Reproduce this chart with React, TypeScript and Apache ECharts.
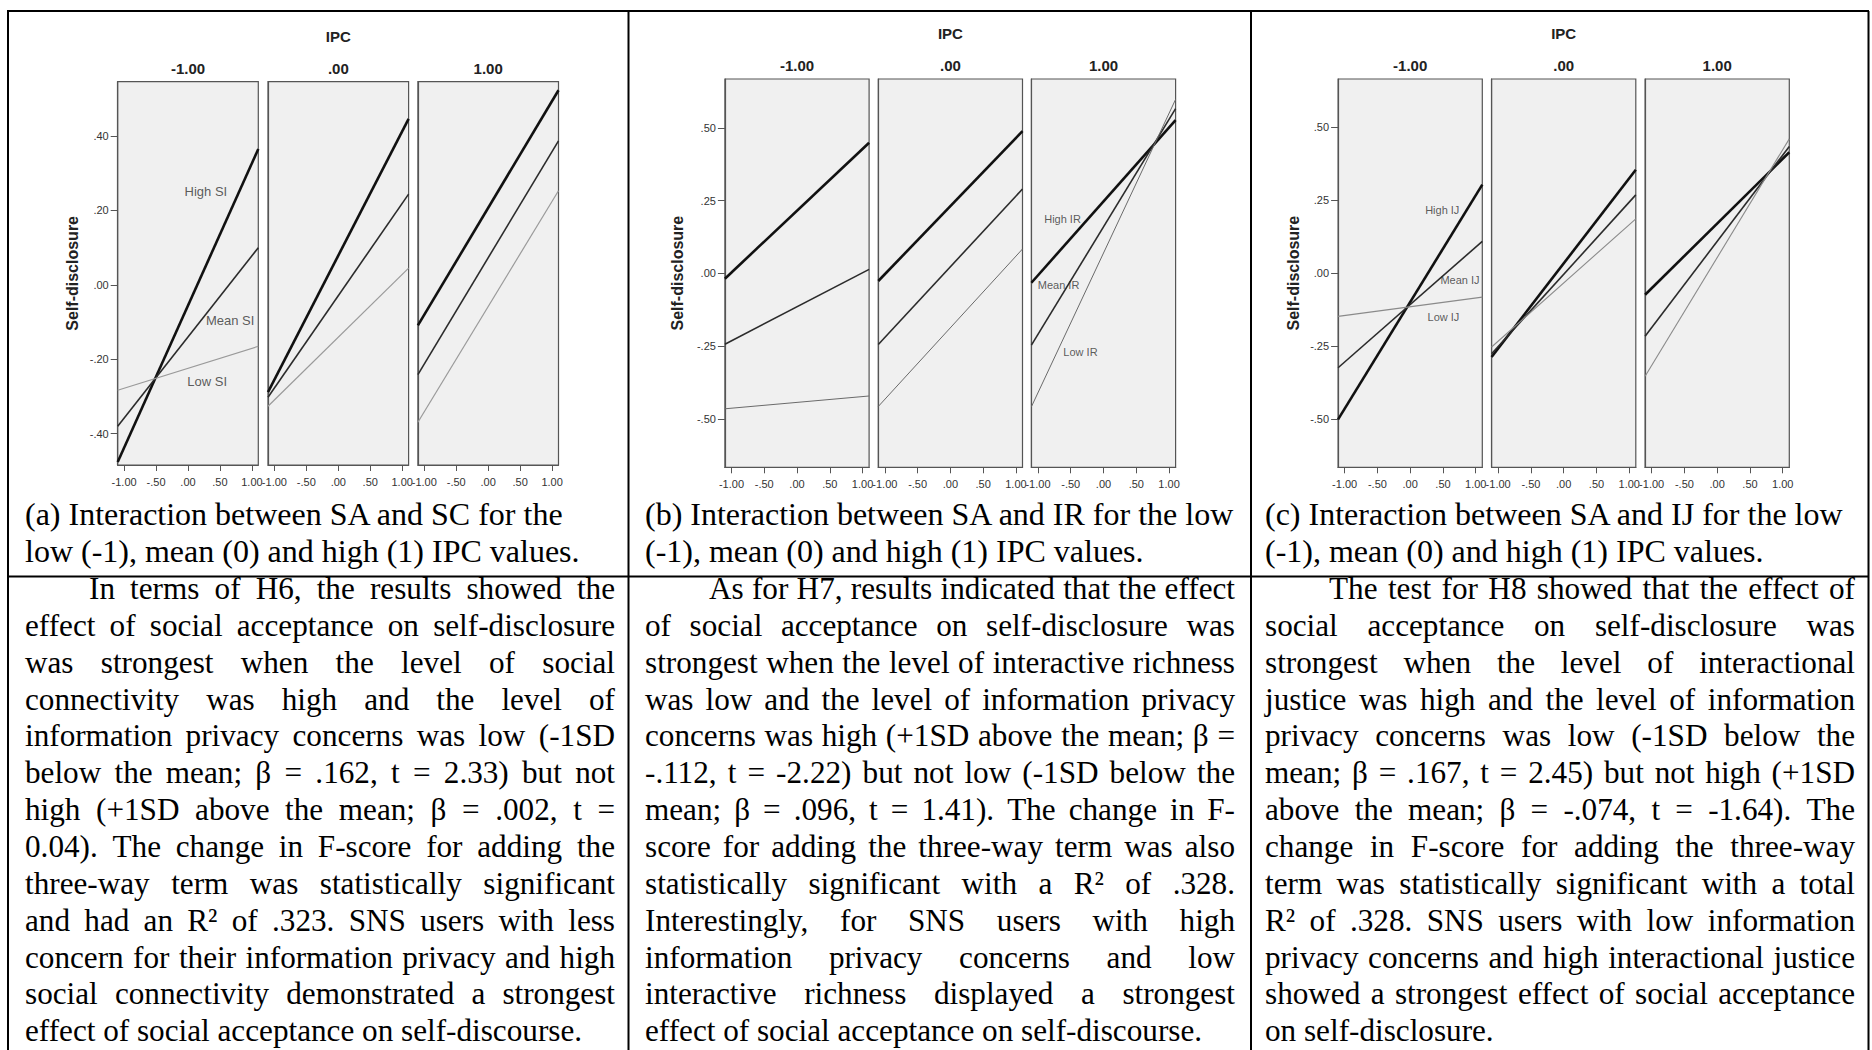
import React, { useEffect, useRef } from "react";
import * as echarts from "echarts";

// ---------------- data ----------------
const ipcLevels = ["-1.00", ".00", "1.00"];
const saTicks = [-1, -0.5, 0, 0.5, 1];
const saRange = [-1.1, 1.1];
const yTicksA = [-0.4, -0.2, 0, 0.2, 0.4];
const yTicksB = [-0.5, -0.25, 0, 0.25, 0.5];
const yTicksC = [-0.5, -0.25, 0, 0.25, 0.5];

// each row = one IPC facet (-1, 0, 1): [self-disclosure at SA min, at SA max]
const siHigh = [[-0.476, 0.365], [-0.288, 0.446], [-0.109, 0.523]];
const siMean = [[-0.38, 0.1], [-0.302, 0.244], [-0.241, 0.387]];
const siLow = [[-0.283, -0.165], [-0.326, 0.045], [-0.369, 0.253]];

const irHigh = [[-0.018, 0.449], [-0.026, 0.489], [-0.032, 0.527]];
const irMean = [[-0.243, 0.014], [-0.244, 0.29], [-0.246, 0.566]];
const irLow = [[-0.465, -0.421], [-0.457, 0.084], [-0.458, 0.598]];

const ijHigh = [[-0.5, 0.304], [-0.286, 0.355], [-0.073, 0.415]];
const ijMean = [[-0.323, 0.11], [-0.275, 0.269], [-0.215, 0.435]];
const ijLow = [[-0.147, -0.081], [-0.252, 0.187], [-0.352, 0.461]];

const captions = [
  ["(a) Interaction between SA and SC for the", "low (-1), mean (0) and high (1) IPC values."],
  ["(b) Interaction between SA and IR for the low", "(-1), mean (0) and high (1) IPC values."],
  ["(c) Interaction between SA and IJ for the low", "(-1), mean (0) and high (1) IPC values."],
];

const bodyA = [
  "In terms of H6, the results showed the",
  "effect of social acceptance on self-disclosure",
  "was strongest when the level of social",
  "connectivity was high and the level of",
  "information privacy concerns was low (-1SD",
  "below the mean; β = .162, t = 2.33) but not",
  "high (+1SD above the mean; β = .002, t =",
  "0.04). The change in F-score for adding the",
  "three-way term was statistically significant",
  "and had an R² of .323. SNS users with less",
  "concern for their information privacy and high",
  "social connectivity demonstrated a strongest",
  "effect of social acceptance on self-discourse.",
];
const bodyB = [
  "As for H7, results indicated that the effect",
  "of social acceptance on self-disclosure was",
  "strongest when the level of interactive richness",
  "was low and the level of information privacy",
  "concerns was high (+1SD above the mean; β =",
  "-.112, t = -2.22) but not low (-1SD below the",
  "mean; β = .096, t = 1.41). The change in F-",
  "score for adding the three-way term was also",
  "statistically significant with a R² of .328.",
  "Interestingly, for SNS users with high",
  "information privacy concerns and low",
  "interactive richness displayed a strongest",
  "effect of social acceptance on self-discourse.",
];
const bodyC = [
  "The test for H8 showed that the effect of",
  "social acceptance on self-disclosure was",
  "strongest when the level of interactional",
  "justice was high and the level of information",
  "privacy concerns was low (-1SD below the",
  "mean; β = .167, t = 2.45) but not high (+1SD",
  "above the mean; β = -.074, t = -1.64). The",
  "change in F-score for adding the three-way",
  "term was statistically significant with a total",
  "R² of .328. SNS users with low information",
  "privacy concerns and high interactional justice",
  "showed a strongest effect of social acceptance",
  "on self-disclosure.",
];

// ---------------- styles / layout ----------------
const SERIF = '"Liberation Serif", "Times New Roman", serif';
const SANS = '"Liberation Sans", Arial, sans-serif';
const styleHigh = { color: "#111", width: 2.6 };
const styleMean = { color: "#2b2b2b", width: 1.6 };

const panels = [
  {
    series: [
      { name: "High SI", values: siHigh, style: styleHigh },
      { name: "Mean SI", values: siMean, style: styleMean },
      { name: "Low SI", values: siLow, style: { color: "#9a9a9a", width: 1.2 } },
    ],
    yMin: -0.484, yMax: 0.546, yTicks: yTicksA,
    facets: [117.7, 268, 417.9], facetW: 140.6, top: 81.7, bottom: 465,
    ipcY: 36.7, headY: 68, titleX: 72.3,
    labelFacet: 0, labelPos: [[0.28, 0.25], [0.66, -0.095], [0.3, -0.26]], labelSize: 13,
  },
  {
    series: [
      { name: "High IR", values: irHigh, style: styleHigh },
      { name: "Mean IR", values: irMean, style: styleMean },
      { name: "Low IR", values: irLow, style: { color: "#6a6a6a", width: 1 } },
    ],
    yMin: -0.666, yMax: 0.668, yTicks: yTicksB,
    facets: [724.9, 878.3, 1031.4], facetW: 144.2, top: 79, bottom: 467.3,
    ipcY: 33, headY: 65, titleX: 677.8,
    labelFacet: 2, labelPos: [[-0.625, 0.187], [-0.686, -0.04], [-0.351, -0.269]], labelSize: 11,
  },
  {
    series: [
      { name: "High IJ", values: ijHigh, style: styleHigh },
      { name: "Mean IJ", values: ijMean, style: styleMean },
      { name: "Low IJ", values: ijLow, style: { color: "#8a8a8a", width: 1.1 } },
    ],
    yMin: -0.664, yMax: 0.666, yTicks: yTicksC,
    facets: [1338.1, 1491.6, 1645.1], facetW: 144.2, top: 79, bottom: 467.3,
    ipcY: 33, headY: 65, titleX: 1293.6,
    labelFacet: 0, labelPos: [[0.489, 0.219], [0.76, -0.022], [0.507, -0.15]], labelSize: 11,
  },
];

const bodies = [bodyA, bodyB, bodyC];
const textLeft = [25, 645, 1265];
const textWidth = 590;
const indent = 64;
const BODY_SIZE = 31.2;
const CAP_SIZE = 32;

function fmt(v: number) {
  const s = Math.abs(v).toFixed(2).replace(/^0\./, ".");
  return (v < 0 ? "-" : "") + s;
}

let measureCtx: CanvasRenderingContext2D | null = null;
function measure(t: string, size: number) {
  if (!measureCtx) measureCtx = document.createElement("canvas").getContext("2d");
  measureCtx!.font = `${size}px "Liberation Serif"`;
  return measureCtx!.measureText(t).width;
}

function textEl(text: string, x: number, y: number, size: number, extra: any = {}) {
  return {
    type: "text",
    x,
    y,
    silent: true,
    style: {
      text,
      fontSize: size,
      fontFamily: SERIF,
      fill: "#000",
      align: "left",
      verticalAlign: "middle",
      ...extra,
    },
  };
}

function lineEls(line: string, x0: number, width: number, y: number, size: number, justify: boolean) {
  if (!justify) return [textEl(line, x0, y, size)];
  const words = line.split(" ");
  const ws = words.map((w) => measure(w, size));
  const total = ws.reduce((a, b) => a + b, 0);
  const gap = (width - total) / (words.length - 1);
  let x = x0;
  return words.map((w, i) => {
    const el = textEl(w, x, y, size);
    x += ws[i] + gap;
    return el;
  });
}

function buildOption() {
  const grid: any[] = [];
  const xAxis: any[] = [];
  const yAxis: any[] = [];
  const series: any[] = [];
  const graphics: any[] = [];

  panels.forEach((p, pi) => {
    p.facets.forEach((left, fi) => {
      const gi = grid.length;
      grid.push({
        left,
        top: p.top,
        width: p.facetW,
        height: p.bottom - p.top,
        show: true,
        backgroundColor: "#f0f0f0",
        borderColor: "#555",
        borderWidth: 1.2,
        containLabel: false,
        outerBoundsMode: "none",
      });
      xAxis.push({
        type: "value",
        gridIndex: gi,
        min: saRange[0],
        max: saRange[1],
        axisLine: { show: true, onZero: false, lineStyle: { color: "#555", width: 1.2 } },
        axisTick: { show: true, customValues: saTicks, length: 6, lineStyle: { color: "#555" } },
        axisLabel: {
          customValues: saTicks,
          formatter: (v: number) => fmt(v),
          fontSize: 11,
          fontFamily: SANS,
          color: "#333",
          margin: 11,
          hideOverlap: false,
        },
        splitLine: { show: false },
      });
      yAxis.push({
        type: "value",
        gridIndex: gi,
        min: p.yMin,
        max: p.yMax,
        axisLine: { show: true, onZero: false, lineStyle: { color: "#555", width: 1.2 } },
        axisTick: { show: fi === 0, customValues: p.yTicks, length: 7, lineStyle: { color: "#555" } },
        axisLabel: {
          show: fi === 0,
          customValues: p.yTicks,
          formatter: (v: number) => fmt(v),
          fontSize: 11,
          fontFamily: SANS,
          color: "#333",
          margin: 9,
        },
        splitLine: { show: false },
      });
      p.series.forEach((s) => {
        series.push({
          type: "line",
          name: s.name,
          xAxisIndex: gi,
          yAxisIndex: gi,
          symbol: "none",
          silent: true,
          lineStyle: { color: s.style.color, width: s.style.width },
          data: [
            [saRange[0], s.values[fi][0]],
            [saRange[1], s.values[fi][1]],
          ],
        });
      });
      if (fi === p.labelFacet) {
        series.push({
          type: "scatter",
          xAxisIndex: gi,
          yAxisIndex: gi,
          silent: true,
          symbolSize: 1,
          itemStyle: { color: "rgba(0,0,0,0)" },
          data: p.series.map((s, si) => ({ name: s.name, value: p.labelPos[si] })),
          label: {
            show: true,
            position: "inside",
            formatter: (d: any) => d.name,
            fontSize: p.labelSize,
            fontFamily: SANS,
            color: "#333",
          },
        });
      }
      // facet header
      graphics.push({
        type: "text",
        x: left + p.facetW / 2,
        y: p.headY,
        silent: true,
        style: {
          text: ipcLevels[fi],
          fontSize: 15,
          fontWeight: "bold",
          fontFamily: SANS,
          fill: "#222",
          align: "center",
          verticalAlign: "middle",
        },
      });
    });
    graphics.push({
      type: "text",
      x: p.facets[1] + p.facetW / 2,
      y: p.ipcY,
      silent: true,
      style: {
        text: "IPC",
        fontSize: 15,
        fontWeight: "bold",
        fontFamily: SANS,
        fill: "#222",
        align: "center",
        verticalAlign: "middle",
      },
    });
    graphics.push({
      type: "text",
      x: p.titleX,
      y: (p.top + p.bottom) / 2,
      rotation: Math.PI / 2,
      silent: true,
      style: {
        text: "Self-disclosure",
        fontSize: 16,
        fontWeight: "bold",
        fontFamily: SANS,
        fill: "#222",
        align: "center",
        verticalAlign: "middle",
      },
    });

    // captions
    captions[pi].forEach((c, li) => {
      graphics.push(textEl(c, textLeft[pi], 514 + li * 37, CAP_SIZE));
    });
    // body text
    const body = bodies[pi];
    body.forEach((line, li) => {
      const y = 588.5 + li * 36.85;
      const first = li === 0;
      const last = li === body.length - 1;
      const x0 = textLeft[pi] + (first ? indent : 0);
      const w = textWidth - (first ? indent : 0);
      graphics.push(...lineEls(line, x0, w, y, BODY_SIZE, !last));
    });
  });

  // table rules
  const rule = (x1: number, y1: number, x2: number, y2: number) => ({
    type: "line",
    silent: true,
    shape: { x1, y1, x2, y2 },
    style: { stroke: "#000", lineWidth: 2 },
  });
  graphics.push(rule(7, 11, 1869, 11));
  graphics.push(rule(8, 11, 8, 1050));
  graphics.push(rule(628.5, 11, 628.5, 1050));
  graphics.push(rule(1251, 11, 1251, 1050));
  graphics.push(rule(1868.5, 11, 1868.5, 1050));
  graphics.push(rule(7, 576.5, 1869, 576.5));

  return {
    animation: false,
    backgroundColor: "#fff",
    grid,
    xAxis,
    yAxis,
    series,
    graphic: { elements: graphics },
  };
}

export default function App() {
  const ref = useRef<HTMLDivElement>(null);
  useEffect(() => {
    if (!ref.current) return;
    const chart = echarts.init(ref.current, null, { renderer: "svg", width: 1872, height: 1050 });
    chart.setOption(buildOption() as any);
    return () => chart.dispose();
  }, []);
  return (
    <div
      ref={ref}
      style={{ position: "fixed", left: 0, top: 0, width: 1872, height: 1050, background: "#fff" }}
    />
  );
}
